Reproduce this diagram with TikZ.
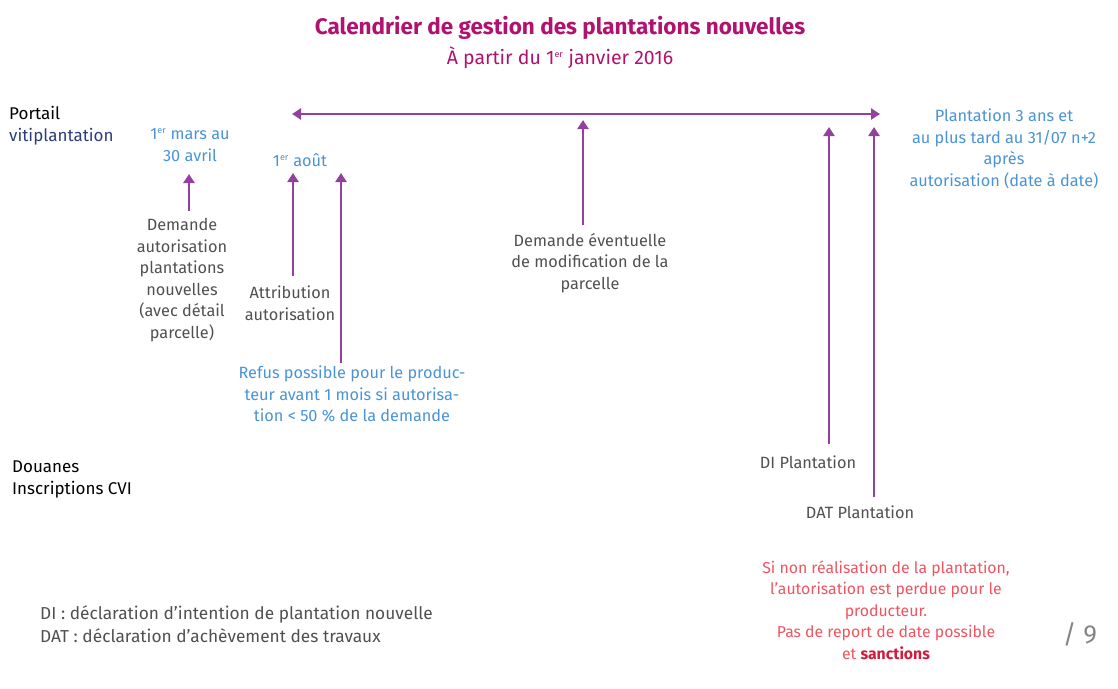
\documentclass[tikz,border=0pt]{standalone}
\usepackage{fontspec}
\setmainfont{Fira Sans}
\usetikzlibrary{arrows.meta}
\definecolor{titlemag}{HTML}{B0126E}
\definecolor{arrowpurple}{HTML}{93409E}
\definecolor{bluetxt}{HTML}{4A93D6}
\definecolor{navytxt}{HTML}{2C3C7C}
\definecolor{graytxt}{HTML}{505050}
\definecolor{redtxt}{HTML}{EE5560}
\definecolor{darkred}{HTML}{D01C3A}
\tikzset{
  lbl/.style={inner sep=0pt, align=center, font=\fontsize{16.3}{21.5}\selectfont},
  graylbl/.style={lbl, text=graytxt},
  bluelbl/.style={lbl, text=bluetxt},
  redlbl/.style={lbl, text=redtxt, font=\fontsize{15.8}{21.5}\selectfont},
  sidelbl/.style={inner sep=0pt, align=left, anchor=west, font=\fontsize{17}{22}\selectfont},
  parrow/.style={draw=arrowpurple, line width=2.4pt, -{Triangle[width=11pt,length=9pt]}},
  pdarrow/.style={draw=arrowpurple, line width=2.4pt, {Triangle[width=11pt,length=9pt]}-{Triangle[width=11pt,length=9pt]}},
}
\newcommand{\myer}{\textsuperscript{\fontsize{9}{9}\selectfont er}}
\begin{document}
\begin{tikzpicture}[x=1pt,y=-1pt]
\useasboundingbox (0,0) rectangle (1118,688);
% title
\node[inner sep=0pt, text=titlemag, font=\fontsize{22.5}{26}\bfseries\selectfont] (title) at (560,28) {Calendrier de gestion des plantations nouvelles};
\node[inner sep=0pt, text=titlemag, font=\fontsize{19.5}{22}\selectfont] (subtitle) at (560,58) {À partir du 1\myer{} janvier 2016};
% left labels
\node[sidelbl] (portail) at (9,126) {Portail\\\textcolor{navytxt}{vitiplantation}};
\node[sidelbl] (douanes) at (12,479) {Douanes\\Inscriptions CVI};
% timeline
\coordinate (tlL) at (292,114);
\coordinate (tlR) at (880,114);
\draw[pdarrow] (tlL) -- (tlR);
% dates
\node[bluelbl] (mars) at (190,145) {1\myer{} mars au\\30 avril};
\node[bluelbl] (aout) at (300,160) {1\myer{} août};
\node[bluelbl] (planta) at (1004,149) {Plantation 3 ans et\\au plus tard au 31/07 n+2\\après\\autorisation (date à date)};
% events
\node[graylbl] (demande) at (182,280) {Demande\\autorisation\\plantations\\nouvelles\\(avec détail\\parcelle)};
\node[graylbl] (attrib) at (290,303) {Attribution\\autorisation};
\node[bluelbl] (refus) at (352,394) {Refus possible pour le produc-\\teur avant 1 mois si autorisa-\\tion < 50 \% de la demande};
\node[graylbl] (modif) at (590,263) {Demande éventuelle\\de modification de la\\parcelle};
\node[graylbl] (di) at (808,462) {DI Plantation};
\node[graylbl] (dat) at (860,512) {DAT Plantation};
\node[redlbl] (sinon) at (886,610) {Si non réalisation de la plantation,\\l’autorisation est perdue pour le\\producteur.\\Pas de report de date possible\\et \textcolor{darkred}{\bfseries sanctions}};
\node[inner sep=0pt, text=graytxt!70, font=\fontsize{26}{26}\selectfont] (page) at (1080,634) {/ 9};
\node[inner sep=0pt, align=left, anchor=west, text=graytxt, font=\fontsize{17.3}{23}\selectfont] (legend) at (40,624) {DI : déclaration d’intention de plantation nouvelle\\DAT : déclaration d’achèvement des travaux};
% arrows
\coordinate (a1s) at (189,211); \coordinate (a1e) at (189,174);
\coordinate (a2s) at (293,276); \coordinate (a2e) at (293,173);
\coordinate (a3s) at (341,363); \coordinate (a3e) at (341,173);
\coordinate (a4s) at (583,225); \coordinate (a4e) at (583,120);
\coordinate (a5s) at (829,444); \coordinate (a5e) at (829,127);
\coordinate (a6s) at (874,497); \coordinate (a6e) at (874,127);
\draw[parrow] (a1s) -- (a1e);
\draw[parrow] (a2s) -- (a2e);
\draw[parrow] (a3s) -- (a3e);
\draw[parrow] (a4s) -- (a4e);
\draw[parrow] (a5s) -- (a5e);
\draw[parrow] (a6s) -- (a6e);
\end{tikzpicture}
\end{document}
